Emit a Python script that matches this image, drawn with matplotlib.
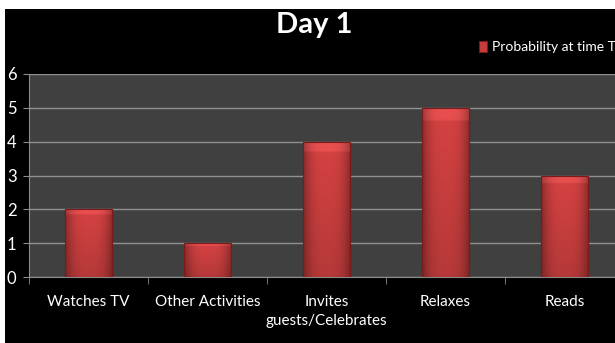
import numpy as np
import matplotlib
matplotlib.use("Agg")
import matplotlib.pyplot as plt
from matplotlib.patches import Rectangle

categories = ["Watches TV", "Other Activities", "Invites\nguests/Celebrates", "Relaxes", "Reads"]
values = [2, 1, 4, 5, 3]
yticks = [0, 1, 2, 3, 4, 5, 6]
title = "Day 1"
series_name = "Probability at time T"

FONT = ["Lato", "DejaVu Sans"]
plt.rcParams['font.family'] = FONT

W, H = 615, 343
fig = plt.figure(figsize=(W / 100, H / 100), dpi=100)
fig.patch.set_facecolor("white")
# black slide background
fig.patches.append(Rectangle((5 / W, 0), 1 - 5 / W, 1 - 9 / H, transform=fig.transFigure,
                             facecolor="black", edgecolor="none", zorder=-10))

left, right = 29, 624
top, bottom = 74, 277
ax = fig.add_axes([left / W, 1 - bottom / H, (right - left) / W, (bottom - top) / H])
ax.set_facecolor("#404040")

x = np.arange(len(categories))
bars = ax.bar(x, values, width=0.4, color="#c83c3c", edgecolor="#7a1a1a", linewidth=0.8,
              zorder=3, label=series_name)

# gradient shading for a bevelled look
grad_h = np.linspace(0, 1, 64)
prof = 1 - 0.35 * (np.abs(grad_h - 0.5) * 2) ** 3
for p in bars:
    bx, by, bw, bh = p.get_x(), p.get_y(), p.get_width(), p.get_height()
    vert = np.linspace(0, 1, 64)[:, None]
    shade = prof[None, :] * (0.85 + 0.15 * vert)
    top_hl = (vert > 0.93).astype(float) * 0.25
    base = np.array([0.84, 0.26, 0.26])
    img = np.clip(base[None, None, :] * shade[:, :, None] + top_hl[:, :, None] * np.array([0.3, 0.2, 0.2]), 0, 1)
    im = ax.imshow(img, extent=[bx, bx + bw, by, by + bh], origin="lower", aspect="auto", zorder=4,
                   interpolation="bilinear")
    im.set_clip_path(p)
    ax.add_patch(Rectangle((bx, by), bw, bh, facecolor="none", edgecolor="#7a1a1a", linewidth=0.8, zorder=5))

ax.set_xlim(-0.5, len(categories) - 0.5)
ax.set_ylim(0, 6)
ax.set_yticks(yticks)
ax.set_yticklabels([str(v) for v in yticks], color="white", fontsize=12)
ax.yaxis.grid(True, color="#909090", linewidth=1.0, zorder=1)
ax.set_axisbelow(True)

ax.set_xticks(x)
ax.set_xticklabels(categories, color="white", fontsize=11, linespacing=1.45)
ax.set_xticks(np.arange(len(categories) + 1) - 0.5, minor=True)
ax.tick_params(axis="x", which="major", length=0, pad=13)
ax.tick_params(axis="x", which="minor", length=5, color="#8c8c8c", direction="out")
ax.tick_params(axis="y", length=4, color="#8c8c8c", direction="out", pad=5)

for s in ["top", "right"]:
    ax.spines[s].set_visible(False)
ax.spines["left"].set_color("#8c8c8c")
ax.spines["bottom"].set_color("#8c8c8c")

fig.text(314 / W, 1 - 25 / H, title, color="white", fontsize=21, fontweight="bold",
         ha="center", va="center")

leg = fig.legend(handles=[bars], labels=[series_name], loc="center left",
                 bbox_to_anchor=(479 / W, 1 - 47 / H), frameon=False,
                 handlelength=0.6, handleheight=0.8, handletextpad=0.35,
                 fontsize=10, labelcolor="white", borderaxespad=0, borderpad=0)

fig.savefig("out.png", dpi=100, facecolor=fig.get_facecolor())
